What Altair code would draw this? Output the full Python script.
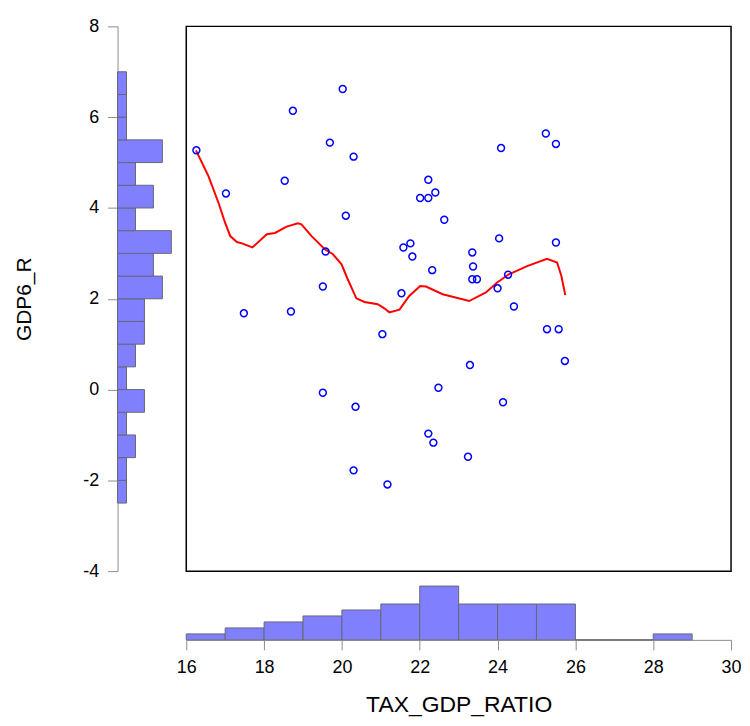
import altair as alt
import pandas as pd

# Scatter data (TAX_GDP_RATIO, GDP6_R)
tax = [16.26, 17.02, 17.48, 18.53, 18.74, 18.69, 19.69, 19.58, 19.51, 19.51,
       20.02, 20.30, 20.10, 20.35, 20.30, 21.17, 21.04, 21.53, 21.58, 21.76,
       21.81, 22.01, 22.22, 22.22, 22.40, 22.63, 22.32, 22.22, 22.35, 22.48,
       23.35, 23.37, 23.35, 23.47, 23.29, 23.24, 24.09, 24.04, 24.00, 24.27,
       24.42, 24.14, 25.24, 25.50, 25.50, 25.27, 25.57, 25.73]
gdp = [5.27, 4.32, 1.68, 4.60, 6.14, 1.72, 5.44, 3.04, 2.27, -0.07,
       6.62, 5.13, 3.83, -0.38, -1.78, -2.09, 1.22, 2.12, 3.13, 3.22,
       2.93, 4.22, 4.62, 4.22, 4.34, 3.74, 2.63, -0.97, -1.17, 0.04,
       3.02, 2.71, 2.43, 2.43, 0.54, -1.48, 5.32, 3.33, 2.23, 2.53,
       1.83, -0.28, 5.64, 5.41, 3.24, 1.33, 1.33, 0.63]

# Nearest-neighbour fit line
fit_x = [16.25, 16.57, 16.83, 17.00, 17.13, 17.30, 17.43, 17.70, 18.07, 18.28,
         18.58, 18.87, 18.96, 19.22, 19.56, 19.77, 19.99, 20.15, 20.37, 20.58,
         20.92, 21.09, 21.22, 21.48, 21.73, 22.01, 22.16, 22.59, 23.27, 23.70,
         23.99, 24.29, 24.76, 25.27, 25.53, 25.64, 25.74]
fit_y = [5.27, 4.70, 4.11, 3.67, 3.38, 3.25, 3.22, 3.13, 3.42, 3.45,
         3.59, 3.66, 3.64, 3.38, 3.09, 2.98, 2.76, 2.43, 2.01, 1.93,
         1.88, 1.79, 1.70, 1.76, 2.06, 2.28, 2.27, 2.10, 1.95, 2.14,
         2.36, 2.54, 2.72, 2.88, 2.80, 2.50, 2.08]

# Histogram of GDP6_R (bins of 0.5)
y_lo = [-2.5, -2.0, -1.5, -1.0, -0.5, 0.0, 0.5, 1.0, 1.5, 2.0,
        2.5, 3.0, 3.5, 4.0, 4.5, 5.0, 5.5, 6.0, 6.5]
y_hi = [-2.0, -1.5, -1.0, -0.5, 0.0, 0.5, 1.0, 1.5, 2.0, 2.5,
        3.0, 3.5, 4.0, 4.5, 5.0, 5.5, 6.0, 6.5, 7.0]
y_counts = [1, 1, 2, 1, 3, 1, 2, 3, 3, 5, 4, 6, 2, 4, 2, 5, 1, 1, 1]

# Histogram of TAX_GDP_RATIO (bins of 1)
x_lo = [16, 17, 18, 19, 20, 21, 22, 23, 24, 25, 26, 27, 28]
x_hi = [17, 18, 19, 20, 21, 22, 23, 24, 25, 26, 27, 28, 29]
x_counts = [1, 2, 3, 4, 5, 6, 9, 6, 6, 6, 0, 0, 1]

FONT = "Liberation Sans"
BAR_FILL = "#8080FF"
BAR_STROKE = "#666677"
AXIS_GRAY = "#8c8c8c"

scatter_df = pd.DataFrame({"x": tax, "y": gdp})
fit_df = pd.DataFrame({"x": fit_x, "y": fit_y})
yh_df = pd.DataFrame({"lo": y_lo, "hi": y_hi, "n": y_counts, "zero": [0] * len(y_counts)})
xh_df = pd.DataFrame({"lo": x_lo, "hi": x_hi, "n": x_counts, "zero": [0] * len(x_counts)})

xscale = alt.Scale(domain=[16, 30], nice=False, zero=False)
yscale = alt.Scale(domain=[-4, 8], nice=False, zero=False)

SIDE = 547
HW = 60

axis_common = dict(tickSize=10, grid=False, domainColor=AXIS_GRAY, tickColor=AXIS_GRAY,
                   labelFontSize=18, titleFontWeight="normal",
                   labelColor="black", titleColor="black", labelFlush=False,
                   labelFont=FONT, titleFont=FONT, labelExpr="'' + datum.value")

left_hist = alt.Chart(yh_df).mark_rect(
    fill=BAR_FILL, stroke=BAR_STROKE, strokeWidth=1
).encode(
    y=alt.Y("lo:Q", scale=yscale,
            axis=alt.Axis(values=[-4, -2, 0, 2, 4, 6, 8], title="GDP6_R",
                          labelPadding=9, titlePadding=48, titleFontSize=21,
                          **axis_common)),
    y2="hi:Q",
    x=alt.X("zero:Q", scale=alt.Scale(domain=[0, HW / 9.0], nice=False), axis=None),
    x2="n:Q",
).properties(width=HW, height=SIDE)

points = alt.Chart(scatter_df).mark_point(
    shape="circle", filled=False, color="#0000FF", size=48, strokeWidth=1.5, opacity=1
).encode(
    x=alt.X("x:Q", scale=xscale, axis=None),
    y=alt.Y("y:Q", scale=yscale, axis=None),
)
fit_line = alt.Chart(fit_df).mark_line(color="#FF0000", strokeWidth=2).encode(
    x=alt.X("x:Q", scale=xscale, axis=None),
    y=alt.Y("y:Q", scale=yscale, axis=None),
)
main = alt.layer(fit_line, points).properties(
    width=SIDE, height=SIDE,
    view=alt.ViewBackground(stroke="black", strokeWidth=1.5),
)

blank = alt.Chart(pd.DataFrame({"a": [0]})).mark_text(text="", opacity=0).encode(
    x=alt.value(0), y=alt.value(0)
).properties(width=HW, height=HW)

bottom_hist = alt.Chart(xh_df).mark_rect(
    fill=BAR_FILL, stroke=BAR_STROKE, strokeWidth=1
).encode(
    x=alt.X("lo:Q", scale=xscale,
            axis=alt.Axis(values=[16, 18, 20, 22, 24, 26, 28, 30], title="TAX_GDP_RATIO",
                          labelPadding=9, titlePadding=17, titleFontSize=23,
                          **axis_common)),
    x2="hi:Q",
    y=alt.Y("zero:Q", scale=alt.Scale(domain=[0, 10], nice=False), axis=None),
    y2="n:Q",
).properties(width=SIDE, height=HW)

chart = alt.concat(left_hist, main, blank, bottom_hist, columns=2, spacing=9,
                   bounds="flush").properties(
    padding={"left": 5, "top": 8, "right": 0, "bottom": 0}
).configure_view(stroke=None)

chart.save("out.html", embed_options={"renderer": "svg", "actions": False})
